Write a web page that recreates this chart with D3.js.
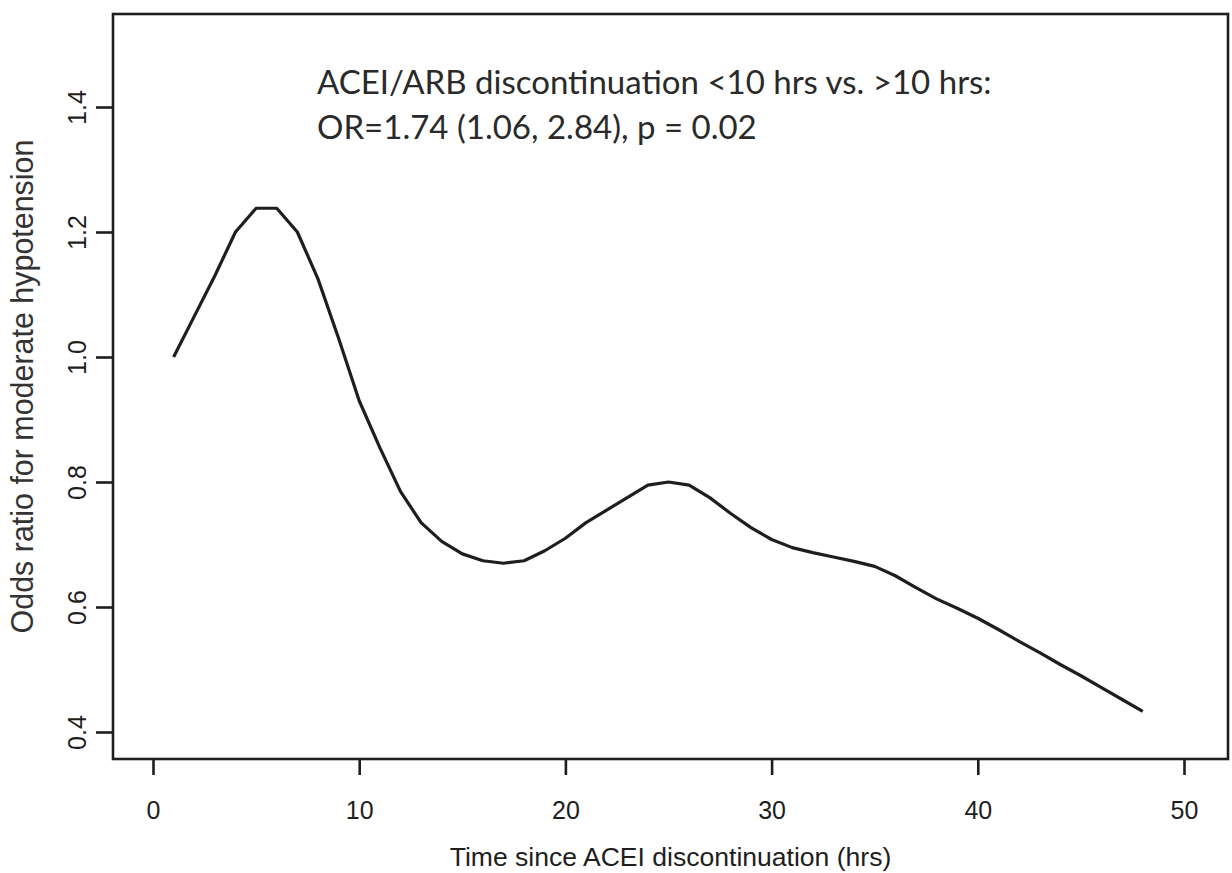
<!DOCTYPE html>
<html>
<head>
<meta charset="utf-8">
<script src="https://cdn.jsdelivr.net/npm/d3@7"></script>
<style>
  body { margin: 0; background: #fff; }
  svg { display: block; }
</style>
</head>
<body>
<div id="chart"></div>
<script>
// Du lieu doc tu hinh
const hours = [1, 2, 3, 4, 5, 6, 7, 8, 9, 10, 11, 12, 13, 14, 15, 16, 17, 18, 19, 20, 21, 22, 23, 24,
  25, 26, 27, 28, 29, 30, 31, 32, 33, 34, 35, 36, 37, 38, 39, 40, 41, 42, 43, 44, 45, 46, 47, 48];
const oddsRatio = [1.00, 1.065, 1.13, 1.20, 1.238, 1.238, 1.20, 1.125, 1.03, 0.93, 0.855, 0.785,
  0.735, 0.705, 0.685, 0.674, 0.670, 0.674, 0.690, 0.710, 0.735, 0.755, 0.775, 0.795,
  0.800, 0.795, 0.775, 0.750, 0.727, 0.708, 0.695, 0.687, 0.680, 0.673, 0.665, 0.650,
  0.631, 0.613, 0.598, 0.582, 0.564, 0.545, 0.527, 0.508, 0.490, 0.471, 0.452, 0.433];
const xTicks = [0, 10, 20, 30, 40, 50];
const yTicks = [0.4, 0.6, 0.8, 1.0, 1.2, 1.4];
const noteLines = ["ACEI/ARB discontinuation <10 hrs vs. >10 hrs:", "OR=1.74 (1.06, 2.84), p = 0.02"];
const xTitle = "Time since ACEI discontinuation (hrs)";
const yTitle = "Odds ratio for moderate hypotension";

const width = 1232, height = 873;
const box = { left: 113, right: 1228, top: 14, bottom: 759 };
const ink = "#1e1e1e";

const svg = d3.select("#chart").append("svg")
  .attr("width", width).attr("height", height);

const x = d3.scaleLinear().domain([0, 50]).range([153, 1184]);
const y = d3.scaleLinear().domain([0.4, 1.4]).range([732, 107]);

// fit font size so text spans a given width
function fitText(sel, targetWidth) {
  const fs = parseFloat(sel.style("font-size"));
  const w = sel.node().getComputedTextLength();
  sel.style("font-size", (fs * targetWidth / w) + "px");
}

// khung
svg.append("rect")
  .attr("x", box.left).attr("y", box.top)
  .attr("width", box.right - box.left).attr("height", box.bottom - box.top)
  .attr("fill", "none").attr("stroke", ink).attr("stroke-width", 2.6);

// truc X
const gx = svg.append("g")
  .attr("transform", `translate(0,${box.bottom})`)
  .call(d3.axisBottom(x).tickValues(xTicks).tickSize(16).tickPadding(26).tickFormat(d3.format("d")));
gx.select(".domain").remove();
gx.selectAll("line").attr("stroke", ink).attr("stroke-width", 2.6);
gx.selectAll("text")
  .attr("fill", ink)
  .style("font-family", "'Liberation Sans', Arial, sans-serif")
  .style("font-size", "25px");

// truc Y
const gy = svg.append("g")
  .attr("transform", `translate(${box.left},0)`)
  .call(d3.axisLeft(y).tickValues(yTicks).tickSize(17).tickFormat(d3.format(".1f")));
gy.select(".domain").remove();
gy.selectAll("line").attr("stroke", ink).attr("stroke-width", 2.6);
gy.selectAll("text")
  .attr("fill", ink)
  .attr("x", 0).attr("y", -36).attr("dy", "0.36em")
  .attr("text-anchor", "middle")
  .attr("transform", "rotate(-90)")
  .style("font-family", "'Liberation Sans', Arial, sans-serif")
  .style("font-size", "25px");

// tieu de truc
const xt = svg.append("text")
  .attr("x", (box.left + box.right) / 2).attr("y", 866)
  .attr("text-anchor", "middle").attr("fill", ink)
  .style("font-family", "'Liberation Sans', Arial, sans-serif")
  .style("font-size", "23px")
  .text(xTitle);
fitText(xt, 442);

const yt = svg.append("text")
  .attr("transform", `translate(33,${(box.top + box.bottom) / 2}) rotate(-90)`)
  .attr("text-anchor", "middle").attr("fill", "#333")
  .style("font-family", "'Liberation Sans', Arial, sans-serif")
  .style("font-size", "26px")
  .text(yTitle);
fitText(yt, 494);

// duong cong
const data = hours.map((h, i) => ({ h, v: oddsRatio[i] }));
svg.append("path")
  .datum(data)
  .attr("fill", "none")
  .attr("stroke", ink)
  .attr("stroke-width", 3.2)
  .attr("stroke-linejoin", "round")
  .attr("d", d3.line().x(d => x(d.h)).y(d => y(d.v)).curve(d3.curveLinear));

// chu thich
const note = svg.append("g")
  .style("font-family", "Lato, 'Open Sans', sans-serif")
  .attr("fill", "#2a2a2a");
const n1 = note.append("text").attr("x", 317).attr("y", 94).style("font-size", "30px").text(noteLines[0]);
fitText(n1, 675);
note.append("text").attr("x", 317).attr("y", 139).style("font-size", n1.style("font-size")).text(noteLines[1]);
</script>
</body>
</html>
